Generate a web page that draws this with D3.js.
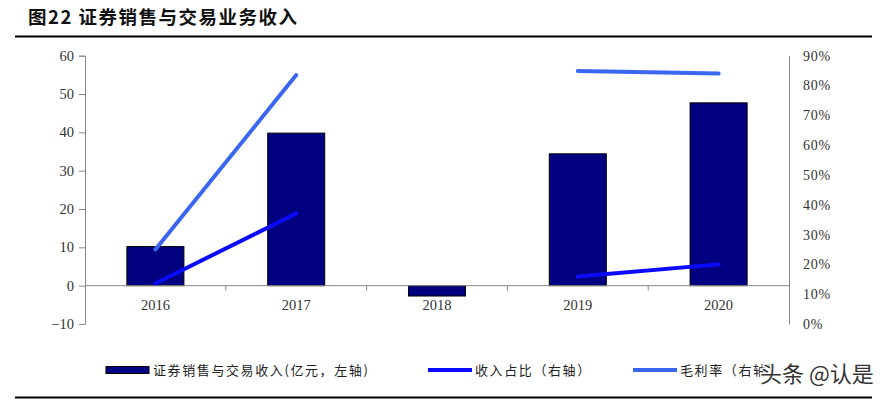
<!DOCTYPE html>
<html>
<head>
<meta charset="utf-8">
<script src="https://cdn.jsdelivr.net/npm/d3@7/dist/d3.min.js"></script>
<style>
  body { margin: 0; background: #fff; }
  svg { display: block; }
</style>
</head>
<body>
<div class="chart"></div>
<script>
// data
var years = ["2016", "2017", "2018", "2019", "2020"];
var revenue = [10.2, 39.8, -2.7, 34.4, 47.7];          // 亿元, left axis
var revShare = [0.136, 0.371, null, 0.159, 0.200];     // 收入占比, right axis
var grossMargin = [0.25, 0.835, null, 0.849, 0.84];    // 毛利率, right axis
var leftTicks = [-10, 0, 10, 20, 30, 40, 50, 60];
var rightTicks = [0, 0.1, 0.2, 0.3, 0.4, 0.5, 0.6, 0.7, 0.8, 0.9];
var legendLabels = ["证券销售与交易收入(亿元，左轴)", "收入占比（右轴）", "毛利率（右轴）"];

var W = 888, H = 402;
var svg = d3.select(".chart").append("svg")
    .attr("width", W)
    .attr("height", H);

var serif = "'Liberation Serif', 'DejaVu Serif', serif";
var cjk = "'Noto Sans CJK SC', sans-serif";

// title + rules
svg.append("text")
    .text("图22 证券销售与交易业务收入")
    .attr("x", 28)
    .attr("y", 24)
    .attr("font-family", cjk)
    .attr("font-weight", "bold")
    .attr("font-size", 18.5)
    .attr("letter-spacing", 1.5)
    .attr("fill", "#111");

svg.append("line")
    .attr("x1", 15).attr("x2", 872)
    .attr("y1", 36.5).attr("y2", 36.5)
    .attr("stroke", "#000").attr("stroke-width", 2.2);

svg.append("line")
    .attr("x1", 15).attr("x2", 872)
    .attr("y1", 397.5).attr("y2", 397.5)
    .attr("stroke", "#000").attr("stroke-width", 2.2);

// scales
var x = d3.scaleBand()
    .domain(years)
    .range([85, 789])
    .paddingInner(0.595)
    .paddingOuter(0.2975);

var yL = d3.scaleLinear().domain([-10, 60]).range([324, 55.7]);
var yR = d3.scaleLinear().domain([0, 0.9]).range([324, 55.7]);

// left axis
var leftAxis = svg.append("g")
    .attr("transform", "translate(85,0)")
    .call(d3.axisLeft(yL).tickValues(leftTicks).tickSize(6).tickPadding(5));
leftAxis.select(".domain").attr("stroke", "#888");
leftAxis.selectAll(".tick line").attr("stroke", "#888");
leftAxis.selectAll("text")
    .attr("font-family", serif)
    .attr("font-size", 14.5)
    .attr("fill", "#333");

// right axis
var rightAxis = svg.append("g")
    .attr("transform", "translate(789,0)")
    .call(d3.axisRight(yR).tickValues(rightTicks).tickSize(0).tickPadding(14)
        .tickFormat(function(d){ return Math.round(d * 100) + "%"; }));
rightAxis.select(".domain").attr("stroke", "#888");
rightAxis.selectAll("text")
    .attr("font-family", serif)
    .attr("font-size", 14)
    .attr("letter-spacing", 0.8)
    .attr("fill", "#333");

// bars
svg.append("g").selectAll("rect")
    .data(years)
    .enter().append("rect")
    .attr("x", function(d){ return x(d); })
    .attr("width", x.bandwidth())
    .attr("y", function(d, i){ return yL(Math.max(0, revenue[i])); })
    .attr("height", function(d, i){ return Math.abs(yL(revenue[i]) - yL(0)); })
    .attr("fill", "#000080")
    .attr("stroke", "#000")
    .attr("stroke-width", 1);

// category axis at zero
var step = x.step();
svg.append("line")
    .attr("x1", 85).attr("x2", 789)
    .attr("y1", yL(0)).attr("y2", yL(0))
    .attr("stroke", "#888");

svg.append("g").selectAll("line")
    .data(years.slice(0, years.length - 1))
    .enter().append("line")
    .attr("x1", function(d){ return x(d) + x.bandwidth() / 2 + step / 2; })
    .attr("x2", function(d){ return x(d) + x.bandwidth() / 2 + step / 2; })
    .attr("y1", yL(0)).attr("y2", yL(0) + 5)
    .attr("stroke", "#888");

svg.append("g").selectAll("text")
    .data(years)
    .enter().append("text")
    .text(function(d){ return d; })
    .attr("x", function(d){ return x(d) + x.bandwidth() / 2; })
    .attr("y", yL(0) + 24)
    .attr("text-anchor", "middle")
    .attr("font-family", serif)
    .attr("font-size", 14.5)
    .attr("fill", "#333");

// lines
function drawLine(values, color){
    var pts = years.map(function(d, i){ return [x(d) + x.bandwidth() / 2, values[i]]; });
    var line = d3.line()
        .defined(function(p){ return p[1] !== null; })
        .x(function(p){ return p[0]; })
        .y(function(p){ return yR(p[1]); });
    svg.append("path")
        .datum(pts)
        .attr("d", line)
        .attr("fill", "none")
        .attr("stroke", color)
        .attr("stroke-width", 4)
        .attr("stroke-linecap", "round");
}
drawLine(revShare, "#0a0aff");
drawLine(grossMargin, "#3a66f2");

// legend
var legY = 370;
svg.append("rect")
    .attr("x", 106).attr("y", legY - 3.5)
    .attr("width", 43).attr("height", 7)
    .attr("fill", "#000080")
    .attr("stroke", "#000");
svg.append("text").text(legendLabels[0])
    .attr("x", 153).attr("y", legY + 5)
    .attr("font-family", cjk).attr("font-size", 13)
    .attr("letter-spacing", 1.6).attr("fill", "#222");

svg.append("line")
    .attr("x1", 428).attr("x2", 472)
    .attr("y1", legY).attr("y2", legY)
    .attr("stroke", "#0a0aff").attr("stroke-width", 4);
svg.append("text").text(legendLabels[1])
    .attr("x", 475).attr("y", legY + 5)
    .attr("font-family", cjk).attr("font-size", 13)
    .attr("letter-spacing", 1.6).attr("fill", "#222");

svg.append("line")
    .attr("x1", 633).attr("x2", 677)
    .attr("y1", legY).attr("y2", legY)
    .attr("stroke", "#3a66f2").attr("stroke-width", 4);
svg.append("text").text(legendLabels[2])
    .attr("x", 680).attr("y", legY + 5)
    .attr("font-family", cjk).attr("font-size", 13)
    .attr("letter-spacing", 1.6).attr("fill", "#222");

// watermark over the legend corner
svg.append("text").text("头条 @认是")
    .attr("x", 760).attr("y", 382)
    .attr("font-family", cjk).attr("font-size", 22)
    .attr("fill", "#333")
    .attr("stroke", "#fff").attr("stroke-width", 2.5)
    .attr("paint-order", "stroke");
</script>
</body>
</html>
